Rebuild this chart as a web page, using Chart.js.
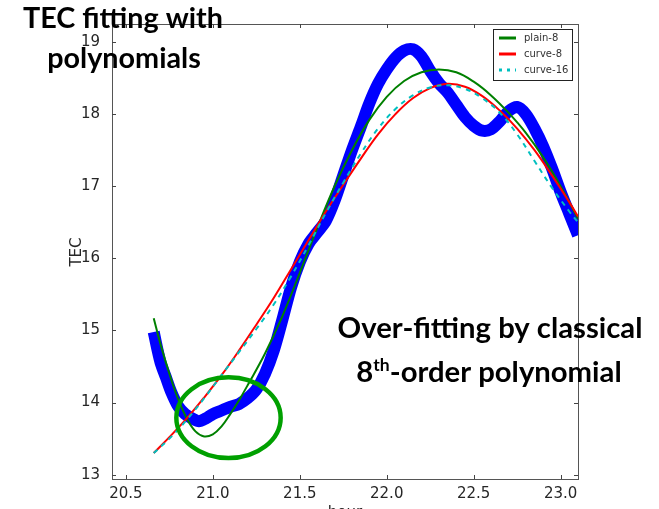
<!DOCTYPE html>
<html>
<head>
<meta charset="utf-8">
<script src="https://cdn.jsdelivr.net/npm/chart.js@4.4.1/dist/chart.umd.min.js"></script>
<style>
  body { margin: 0; background: #fff; }
  #wrap { width: 659px; height: 509px; }
</style>
</head>
<body>
<div id="wrap"><canvas id="tecChart" width="659" height="509"></canvas></div>
<script>
// measured TEC (blue band)
const obsHours = [20.66, 20.68, 20.70, 20.73, 20.76, 20.80, 20.84, 20.88, 20.92, 20.96,
  21.00, 21.05, 21.10, 21.15, 21.20, 21.25, 21.30, 21.35, 21.40, 21.45,
  21.50, 21.55, 21.60, 21.65, 21.70, 21.75, 21.80, 21.85, 21.90, 21.95,
  22.00, 22.05, 22.10, 22.15, 22.20, 22.25, 22.30, 22.35, 22.40, 22.45,
  22.50, 22.55, 22.60, 22.65, 22.70, 22.75, 22.80, 22.85, 22.90, 22.95,
  23.00, 23.05, 23.10];
const obsTec = [14.98, 14.75, 14.55, 14.35, 14.15, 13.95, 13.84, 13.78, 13.74, 13.78,
  13.84, 13.89, 13.94, 13.98, 14.06, 14.18, 14.40, 14.72, 15.15, 15.60,
  15.95, 16.20, 16.36, 16.52, 16.80, 17.15, 17.50, 17.82, 18.15, 18.42,
  18.62, 18.78, 18.88, 18.90, 18.80, 18.60, 18.43, 18.30, 18.13, 17.96,
  17.84, 17.77, 17.79, 17.90, 18.04, 18.10, 18.00, 17.80, 17.55, 17.25,
  16.92, 16.62, 16.32];

// fitted curves
const plainHours = [20.66, 20.70, 20.75, 20.80, 20.85, 20.90, 20.95, 21.00, 21.05, 21.10,
  21.15, 21.20, 21.30, 21.40, 21.50, 21.60, 21.70, 21.80, 21.90, 22.00,
  22.10, 22.20, 22.30, 22.40, 22.50, 22.60, 22.70, 22.80, 22.90, 23.00, 23.10];
const plain8 = [15.17, 14.80, 14.40, 14.05, 13.78, 13.60, 13.53, 13.56, 13.67, 13.84,
  14.03, 14.24, 14.68, 15.20, 15.80, 16.42, 17.00, 17.50, 17.92, 18.24,
  18.46, 18.58, 18.62, 18.58, 18.45, 18.26, 18.02, 17.74, 17.40, 17.00, 16.55];

const curveHours = [20.66, 20.75, 20.85, 20.95, 21.05, 21.15, 21.25, 21.35, 21.45, 21.55,
  21.65, 21.75, 21.85, 21.95, 22.05, 22.15, 22.25, 22.35, 22.45, 22.55,
  22.65, 22.75, 22.85, 22.95, 23.05, 23.10];
const curve8 = [13.30, 13.52, 13.78, 14.07, 14.38, 14.72, 15.08, 15.45, 15.85, 16.25,
  16.65, 17.02, 17.38, 17.72, 18.00, 18.22, 18.36, 18.42, 18.38, 18.25,
  18.05, 17.80, 17.50, 17.15, 16.78, 16.58];
const curve16 = [13.30, 13.50, 13.76, 14.06, 14.38, 14.70, 15.02, 15.36, 15.75, 16.18,
  16.63, 17.05, 17.45, 17.80, 18.07, 18.26, 18.37, 18.40, 18.35, 18.22,
  18.02, 17.72, 17.35, 16.98, 16.65, 16.50];

const xTicks = [20.5, 21.0, 21.5, 22.0, 22.5, 23.0];
const yTicks = [13, 14, 15, 16, 17, 18, 19];
const seriesNames = ['plain-8', 'curve-8', 'curve-16'];

function toPoints(xs, ys) {
  return xs.map((x, i) => ({ x, y: ys[i] }));
}

const tickFont = { family: 'DejaVu Sans', size: 15 };
const tickColor = '#262626';

// frame, inward ticks, legend, ellipse and the slide text
const overlayPlugin = {
  id: 'overlay',
  afterDatasetsDraw(chart) {
    const { ctx, chartArea: a, scales } = chart;
    const xs = scales.x;
    const ys = scales.y;
    ctx.save();

    ctx.strokeStyle = '#555';
    ctx.lineWidth = 1;
    ctx.strokeRect(a.left + 0.5, a.top + 0.5, a.right - a.left, a.bottom - a.top);

    ctx.strokeStyle = '#444';
    ctx.beginPath();
    xTicks.forEach((v) => {
      const px = Math.round(xs.getPixelForValue(v)) + 0.5;
      ctx.moveTo(px, a.bottom); ctx.lineTo(px, a.bottom - 4);
      ctx.moveTo(px, a.top); ctx.lineTo(px, a.top + 4);
    });
    yTicks.forEach((v) => {
      const py = Math.round(ys.getPixelForValue(v)) + 0.5;
      ctx.moveTo(a.left, py); ctx.lineTo(a.left + 4, py);
      ctx.moveTo(a.right, py); ctx.lineTo(a.right - 4, py);
    });
    ctx.stroke();

    // legend box
    const lx = 493, ly = 29, lw = 79, lh = 51;
    ctx.fillStyle = '#fff';
    ctx.fillRect(lx, ly, lw, lh);
    ctx.strokeStyle = '#222';
    ctx.strokeRect(lx + 0.5, ly + 0.5, lw, lh);
    const legendColors = ['#008000', '#ff0000', '#00bfbf'];
    const legendY = [38, 54, 70];
    ctx.font = '10px "DejaVu Sans"';
    ctx.textBaseline = 'middle';
    seriesNames.forEach((name, i) => {
      ctx.strokeStyle = legendColors[i];
      ctx.lineWidth = 3;
      ctx.setLineDash(i === 2 ? [3, 5] : []);
      ctx.beginPath();
      ctx.moveTo(499, legendY[i]);
      ctx.lineTo(516, legendY[i]);
      ctx.stroke();
      ctx.setLineDash([]);
      ctx.fillStyle = '#333';
      ctx.fillText(name, 524, legendY[i]);
    });

    // ellipse round the over-fit dip
    const cx = xs.getPixelForValue(21.09);
    const cy = ys.getPixelForValue(13.79);
    const rx = xs.getPixelForValue(21.39) - cx;
    const ry = cy - ys.getPixelForValue(14.35);
    ctx.strokeStyle = '#00a000';
    ctx.lineWidth = 4.5;
    ctx.beginPath();
    ctx.ellipse(cx, cy, rx, ry, 0, 0, Math.PI * 2);
    ctx.stroke();

    // axis titles
    ctx.fillStyle = tickColor;
    ctx.font = '15px "DejaVu Sans"';
    ctx.textAlign = 'center';
    ctx.fillText('hour', 345, 513);
    ctx.save();
    ctx.translate(77, 252);
    ctx.rotate(-Math.PI / 2);
    ctx.fillText('TEC', 0, 0);
    ctx.restore();

    // slide text
    ctx.fillStyle = '#000';
    ctx.textBaseline = 'alphabetic';
    const fam = 'Lato';
    ctx.font = `bold 100px ${fam}`;
    const s1 = 100 * 200 / ctx.measureText('TEC fitting with').width;
    ctx.font = `bold ${s1}px ${fam}`;
    ctx.fillText('TEC fitting with', 123, 28);
    ctx.fillText('polynomials', 124, 68);

    ctx.font = `bold 100px ${fam}`;
    const s2 = 100 * 305 / ctx.measureText('Over-fitting by classical').width;
    ctx.font = `bold ${s2}px ${fam}`;
    ctx.fillText('Over-fitting by classical', 490, 338);

    ctx.textAlign = 'left';
    const big = `bold ${s2}px ${fam}`;
    const small = `bold ${s2 * 0.6}px ${fam}`;
    ctx.font = big;
    const w8 = ctx.measureText('8').width;
    const wRest = ctx.measureText('-order polynomial').width;
    ctx.font = small;
    const wTh = ctx.measureText('th').width;
    let x0 = 489 - (w8 + wTh + wRest) / 2;
    ctx.font = big;
    ctx.fillText('8', x0, 382);
    ctx.font = small;
    ctx.fillText('th', x0 + w8, 382 - s2 * 0.38);
    ctx.font = big;
    ctx.fillText('-order polynomial', x0 + w8 + wTh, 382);

    ctx.restore();
  }
};

new Chart(document.getElementById('tecChart'), {
  type: 'line',
  data: {
    datasets: [
      {
        label: 'curve-16',
        data: toPoints(curveHours, curve16),
        borderColor: '#00bfbf',
        borderWidth: 2,
        borderDash: [5, 5],
        pointRadius: 0,
        tension: 0.4,
        order: 1
      },
      {
        label: 'curve-8',
        data: toPoints(curveHours, curve8),
        borderColor: '#ff0000',
        borderWidth: 2,
        pointRadius: 0,
        tension: 0.4,
        order: 2
      },
      {
        label: 'plain-8',
        data: toPoints(plainHours, plain8),
        borderColor: '#008000',
        borderWidth: 2,
        pointRadius: 0,
        tension: 0.4,
        order: 3
      },
      {
        label: 'TEC',
        data: toPoints(obsHours, obsTec),
        borderColor: '#0000ff',
        borderWidth: 12,
        pointRadius: 0,
        tension: 0.3,
        order: 4
      }
    ]
  },
  options: {
    responsive: false,
    animation: false,
    layout: { padding: { top: 24, right: 81, left: 0, bottom: 0 } },
    plugins: {
      legend: { display: false },
      tooltip: { enabled: false }
    },
    scales: {
      x: {
        type: 'linear',
        min: 20.42,
        max: 23.1,
        grid: { display: false },
        border: { display: false },
        afterBuildTicks: (scale) => { scale.ticks = xTicks.map((v) => ({ value: v })); },
        afterFit: (scale) => { scale.height = 30; },
        ticks: {
          font: tickFont,
          color: tickColor,
          padding: -2,
          maxRotation: 0,
          callback: (v) => Number(v).toFixed(1)
        }
      },
      y: {
        type: 'linear',
        min: 12.94,
        max: 19.25,
        grid: { display: false },
        border: { display: false },
        afterBuildTicks: (scale) => { scale.ticks = yTicks.map((v) => ({ value: v })); },
        afterFit: (scale) => { scale.width = 112; },
        ticks: {
          font: tickFont,
          color: tickColor,
          padding: 4,
          callback: (v) => String(v)
        }
      }
    }
  },
  plugins: [overlayPlugin]
});
</script>
</body>
</html>
